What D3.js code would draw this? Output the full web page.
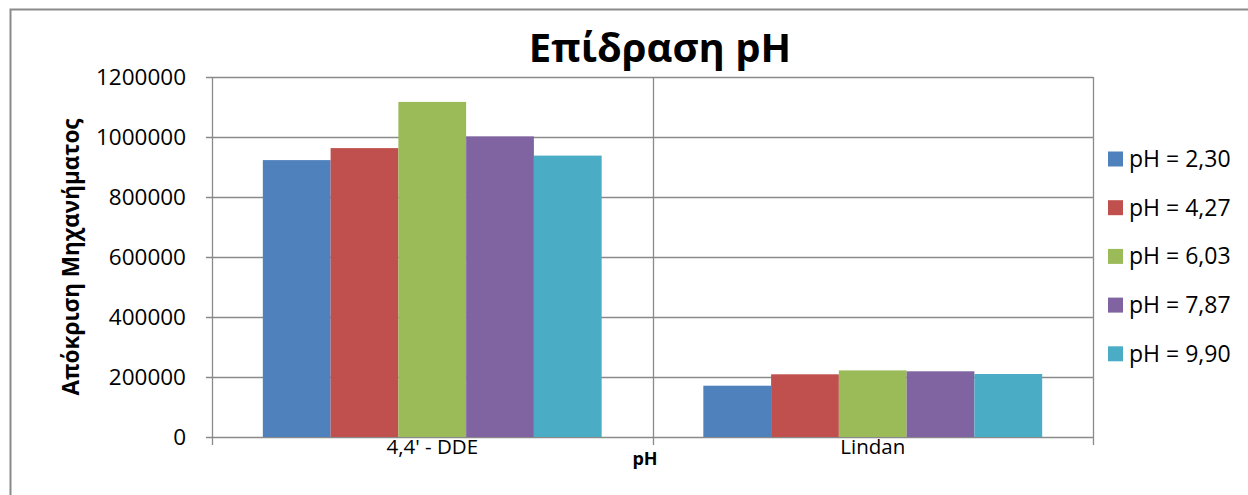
<!DOCTYPE html>
<html>
<head>
<meta charset="utf-8">
<script src="https://cdn.jsdelivr.net/npm/d3@7"></script>
<style>
  body { margin: 0; background: #fff; }
  text { font-family: "Open Sans", sans-serif; fill: #000; }
</style>
</head>
<body>
<svg id="chart"></svg>
<script>
// data
const categories = ["4,4' - DDE", "Lindan"];
const seriesNames = ["pH = 2,30", "pH = 4,27", "pH = 6,03", "pH = 7,87", "pH = 9,90"];
const dde = [923000, 963000, 1117000, 1002000, 938000];
const lindan = [171000, 209000, 222000, 219000, 210000];
const yTicks = [0, 200000, 400000, 600000, 800000, 1000000, 1200000];
const colors = ["#4F81BD", "#C0504D", "#9BBB59", "#8064A2", "#4BACC6"];

const values = [dde, lindan];

const width = 1248;
const height = 495;
const margin = {left: 212, right: 1093, top: 77, bottom: 437};

const svg = d3.select("#chart")
    .attr("width", width)
    .attr("height", height);

// outer border (only top + left visible)
svg.append("path")
    .attr("d", `M10.5,${height} V9.5 H${width}`)
    .attr("fill", "none")
    .attr("stroke", "#8a8a8a")
    .attr("stroke-width", 2);

const x0 = d3.scaleBand()
    .domain(categories)
    .range([margin.left, margin.right])
    .padding(0);

const x1 = d3.scaleBand()
    .domain(seriesNames)
    .range([0, x0.bandwidth()])
    .paddingInner(0)
    .paddingOuter(0.75);

const y = d3.scaleLinear()
    .domain([0, 1200000])
    .range([margin.bottom, margin.top]);

// gridlines
svg.append("g")
    .selectAll("line")
    .data(yTicks)
    .enter().append("line")
    .attr("x1", margin.left - 6)
    .attr("x2", margin.right)
    .attr("y1", d => Math.round(y(d)) + 0.5)
    .attr("y2", d => Math.round(y(d)) + 0.5)
    .attr("stroke", "#8a8a8a")
    .attr("stroke-width", 1.3);

// vertical lines: left axis, category separators, right edge
const vx = [margin.left, x0(categories[1]), margin.right];
svg.append("g")
    .selectAll("line")
    .data(vx)
    .enter().append("line")
    .attr("x1", d => Math.round(d) + 0.5)
    .attr("x2", d => Math.round(d) + 0.5)
    .attr("y1", margin.top)
    .attr("y2", margin.bottom + 8)
    .attr("stroke", "#8a8a8a")
    .attr("stroke-width", 1.3);

// bars
const g = svg.selectAll(".cat")
    .data(categories)
    .enter().append("g")
    .attr("class", "cat")
    .attr("transform", d => `translate(${x0(d)},0)`);

g.selectAll("rect")
    .data((d, i) => values[i].map((v, j) => ({name: seriesNames[j], value: v, color: colors[j]})))
    .enter().append("rect")
    .attr("x", d => x1(d.name))
    .attr("width", x1.bandwidth())
    .attr("y", d => y(d.value))
    .attr("height", d => y(0) - y(d.value))
    .style("fill", d => d.color);

// y tick labels
svg.append("g")
    .selectAll("text")
    .data(yTicks)
    .enter().append("text")
    .attr("x", 186)
    .attr("y", d => y(d))
    .attr("dy", ".35em")
    .attr("text-anchor", "end")
    .style("font-size", "22.5px")
    .text(d => d);

// x labels
svg.append("g")
    .selectAll("text")
    .data(categories)
    .enter().append("text")
    .attr("x", d => x0(d) + x0.bandwidth() / 2)
    .attr("y", 454)
    .attr("text-anchor", "middle")
    .style("font-size", "20.5px")
    .text(d => d);

// axis titles
svg.append("text")
    .attr("x", 645)
    .attr("y", 465)
    .attr("text-anchor", "middle")
    .style("font-size", "18px")
    .style("font-weight", "bold")
    .text("pH");

svg.append("text")
    .attr("transform", "translate(79,257) rotate(-90)")
    .attr("text-anchor", "middle")
    .style("font-size", "22.5px")
    .style("font-weight", "bold")
    .text("Απόκριση Μηχανήματος");

// title
svg.append("text")
    .attr("x", 660)
    .attr("y", 62)
    .attr("text-anchor", "middle")
    .style("font-size", "40px")
    .style("font-weight", "bold")
    .text("Επίδραση pH");

// legend
const legend = svg.append("g")
    .attr("transform", "translate(1108,159)");

legend.selectAll("rect")
    .data(seriesNames)
    .enter().append("rect")
    .attr("x", 0)
    .attr("y", (d, i) => i * 48.7 - 7.5)
    .attr("width", 15)
    .attr("height", 15)
    .style("fill", (d, i) => colors[i]);

legend.selectAll("text")
    .data(seriesNames)
    .enter().append("text")
    .attr("x", 21)
    .attr("y", (d, i) => i * 48.7)
    .attr("dy", ".35em")
    .style("font-size", "23px")
    .text(d => d);
</script>
</body>
</html>
